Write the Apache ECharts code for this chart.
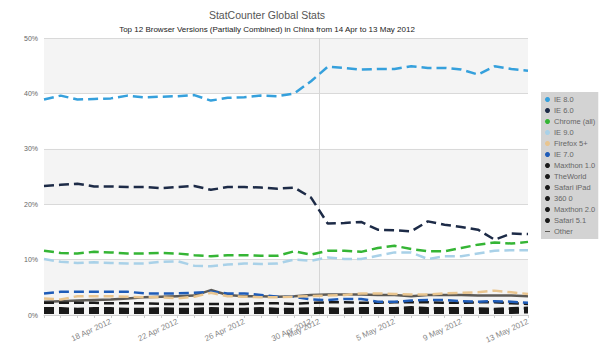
<!DOCTYPE html>
<html>
<head>
<meta charset="utf-8">
<script src="https://cdn.jsdelivr.net/npm/echarts@6/dist/echarts.min.js"></script>
<style>
    html, body { margin: 0; padding: 0; background: #fff; }
    #chart { width: 600px; height: 351px; }
</style>
</head>
<body>
<div id="chart"></div>
<script>
const days = [
    '14 Apr 2012', '15 Apr 2012', '16 Apr 2012', '17 Apr 2012', '18 Apr 2012', '19 Apr 2012',
    '20 Apr 2012', '21 Apr 2012', '22 Apr 2012', '23 Apr 2012', '24 Apr 2012', '25 Apr 2012',
    '26 Apr 2012', '27 Apr 2012', '28 Apr 2012', '29 Apr 2012', '30 Apr 2012', '1 May 2012',
    '2 May 2012', '3 May 2012', '4 May 2012', '5 May 2012', '6 May 2012', '7 May 2012',
    '8 May 2012', '9 May 2012', '10 May 2012', '11 May 2012', '12 May 2012', '13 May 2012'
];
const labelDays = [4, 8, 12, 16, 21, 25, 29];
const monthMark = 16.5;
const monthLabel = 'May 2012';
const yTicks = [0, 10, 20, 30, 40, 50];

const ie8 = [38.9, 39.6, 38.9, 39.0, 39.1, 39.6, 39.3, 39.4, 39.5, 39.7, 38.7, 39.2, 39.3, 39.6, 39.5,
    40.0, 42.2, 44.8, 44.6, 44.3, 44.4, 44.4, 44.9, 44.6, 44.6, 44.3, 43.4, 44.9, 44.4, 44.1];
const ie6 = [23.3, 23.5, 23.7, 23.2, 23.2, 23.1, 23.1, 22.9, 23.1, 23.3, 22.6, 23.1, 23.1, 23.0, 22.8,
    23.0, 21.2, 16.5, 16.6, 16.8, 15.4, 15.3, 15.1, 16.9, 16.3, 15.9, 15.4, 13.6, 14.7, 14.6];
const chrome = [11.6, 11.2, 11.1, 11.4, 11.3, 11.1, 11.1, 11.2, 11.1, 10.8, 10.6, 10.8, 10.8, 10.7, 10.7,
    11.5, 10.9, 11.6, 11.6, 11.4, 12.1, 12.5, 11.9, 11.5, 11.5, 12.1, 12.7, 13.1, 12.9, 13.2];
const ie9 = [10.1, 9.6, 9.4, 9.5, 9.4, 9.3, 9.3, 9.6, 9.7, 8.9, 8.8, 9.1, 9.3, 9.2, 9.3,
    10.0, 9.8, 10.4, 10.1, 10.1, 10.7, 11.3, 11.3, 10.1, 10.6, 10.6, 11.1, 11.6, 11.7, 11.7];
const firefox = [3.0, 2.8, 3.4, 3.4, 3.4, 3.3, 3.2, 3.2, 3.0, 3.3, 4.0, 3.4, 3.3, 3.2, 3.2,
    3.3, 3.4, 3.5, 3.6, 3.9, 3.9, 3.8, 3.7, 3.7, 3.9, 4.0, 4.1, 4.4, 4.1, 3.8];
const ie7 = [3.9, 4.2, 4.2, 4.2, 4.2, 4.2, 3.9, 3.9, 3.9, 4.0, 4.2, 3.9, 3.9, 3.6, 3.3,
    3.3, 2.8, 2.7, 2.9, 2.9, 2.4, 2.4, 2.6, 2.7, 2.7, 2.5, 2.4, 2.5, 2.4, 2.2];
const maxthon1 = [2.2, 2.2, 2.2, 2.2, 2.1, 2.1, 2.1, 2.0, 2.0, 2.0, 2.0, 2.0, 2.0, 2.1, 2.1,
    2.0, 2.2, 2.3, 2.3, 2.2, 2.2, 2.3, 2.3, 2.3, 2.2, 2.2, 2.3, 2.3, 2.1, 2.0];
const theWorld = [1.2, 1.2, 1.1, 1.2, 1.2, 1.1, 1.1, 1.2, 1.1, 1.1, 1.2, 1.1, 1.1, 1.2, 1.1,
    1.1, 1.2, 1.2, 1.1, 1.2, 1.2, 1.2, 1.4, 1.2, 1.2, 1.2, 1.2, 1.1, 1.2, 1.3];
const safariIpad = [1.0, 1.0, 1.0, 1.0, 0.9, 0.9, 0.9, 1.0, 0.9, 0.9, 1.0, 0.9, 0.9, 1.0, 1.0,
    0.9, 1.0, 1.0, 1.0, 1.0, 1.0, 1.0, 1.1, 1.0, 1.0, 1.0, 1.0, 1.0, 1.1, 1.1];
const s360 = [0.8, 0.8, 0.8, 0.8, 0.8, 0.8, 0.8, 0.8, 0.8, 0.8, 0.8, 0.8, 0.8, 0.8, 0.8,
    0.8, 0.8, 0.8, 0.8, 0.8, 0.8, 0.8, 0.9, 0.8, 0.8, 0.8, 0.8, 0.8, 0.9, 0.9];
const maxthon2 = [0.6, 0.6, 0.6, 0.6, 0.6, 0.6, 0.6, 0.6, 0.6, 0.6, 0.6, 0.6, 0.6, 0.6, 0.6,
    0.6, 0.6, 0.6, 0.6, 0.6, 0.6, 0.6, 0.6, 0.6, 0.6, 0.6, 0.6, 0.6, 0.6, 0.6];
const safari51 = [0.4, 0.4, 0.4, 0.4, 0.4, 0.4, 0.4, 0.4, 0.4, 0.4, 0.4, 0.4, 0.4, 0.4, 0.4,
    0.4, 0.4, 0.4, 0.4, 0.4, 0.4, 0.4, 0.4, 0.4, 0.4, 0.4, 0.4, 0.4, 0.4, 0.5];
const other = [2.4, 2.5, 2.6, 2.7, 2.8, 3.0, 3.2, 3.3, 3.4, 3.5, 4.5, 3.6, 3.4, 3.4, 3.3,
    3.4, 3.6, 3.7, 3.7, 3.7, 3.6, 3.6, 3.4, 3.6, 3.6, 3.6, 3.5, 3.5, 3.5, 3.4];

const seriesNames = ['IE 8.0', 'IE 6.0', 'Chrome (all)', 'IE 9.0', 'Firefox 5+', 'IE 7.0', 'Maxthon 1.0',
    'TheWorld', 'Safari iPad', '360 0', 'Maxthon 2.0', 'Safari 5.1', 'Other'];
const seriesValues = [ie8, ie6, chrome, ie9, firefox, ie7, maxthon1, theWorld, safariIpad, s360,
    maxthon2, safari51, other];
const seriesColors = ['#35a0dc', '#1d2b47', '#35b535', '#a9d1e8', '#e9c58f', '#1f5cb8', '#1a1a1a',
    '#1a1a1a', '#1a1a1a', '#1a1a1a', '#1a1a1a', '#1a1a1a', '#5d5a55'];

const font = "'Liberation Sans', Arial, sans-serif";

let series = seriesNames.map((name, i) => {
    let s = {
        name: name,
        type: 'line',
        showSymbol: false,
        symbol: 'circle',
        color: seriesColors[i],
        z: 20 - i,
        data: seriesValues[i].map((v, d) => [d, v]),
        lineStyle: {
            width: 2.5,
            type: name === 'Other' ? 'solid' : [10, 5]
        }
    };
    if (i === 0) {
        s.markLine = {
            silent: true,
            symbol: 'none',
            label: {show: false},
            lineStyle: {color: '#d6d6d6', type: 'solid', width: 1},
            data: [{xAxis: monthMark}]
        };
    }
    return s;
});

let option = {
    animation: false,
    backgroundColor: '#fff',
    title: [
        {
            text: 'StatCounter Global Stats',
            left: 262,
            top: 4,
            textAlign: 'center',
            textStyle: {fontFamily: font, fontSize: 10.5, fontWeight: 'normal', color: '#555'}
        },
        {
            text: 'Top 12 Browser Versions (Partially Combined) in China from 14 Apr to 13 May 2012',
            left: 262,
            top: 20,
            textAlign: 'center',
            textStyle: {fontFamily: font, fontSize: 8, fontWeight: 'normal', color: '#222'}
        }
    ],
    legend: {
        orient: 'vertical',
        left: 541,
        top: 92,
        backgroundColor: '#d3d3d3',
        padding: [3, 3, 3, 4],
        itemGap: 2,
        itemWidth: 5,
        itemHeight: 5,
        icon: 'circle',
        textStyle: {fontFamily: font, fontSize: 7.5, color: '#666', lineHeight: 9, padding: [0, 0, 0, -1]},
        data: seriesNames.map(n => n === 'Other' ? {name: n, icon: 'path://M0,4 L10,4 L10,6 L0,6 Z'} : n)
    },
    grid: {left: 44, right: 72, top: 38, bottom: 36},
    xAxis: {
        type: 'value',
        min: 0,
        max: days.length - 1,
        interval: 1,
        splitLine: {show: false},
        axisLine: {lineStyle: {color: '#cfcfcf'}},
        axisTick: {show: true, length: 3, lineStyle: {color: '#cfcfcf'}},
        axisLabel: {
            customValues: labelDays.concat([monthMark]),
            rotate: 25,
            margin: 6,
            fontFamily: font,
            fontSize: 8,
            color: '#888',
            formatter: v => v === monthMark ? monthLabel : days[v]
        }
    },
    yAxis: {
        type: 'value',
        min: yTicks[0],
        max: yTicks[yTicks.length - 1],
        interval: 10,
        axisLine: {show: false},
        axisTick: {show: false},
        axisLabel: {fontFamily: font, fontSize: 7, color: '#666', margin: 6, formatter: '{value}%'},
        splitLine: {lineStyle: {color: '#d9d9d9'}},
        splitArea: {show: true, areaStyle: {color: ['#f4f4f4', '#ffffff']}}
    },
    series: series
};

let myChart = echarts.init(document.getElementById('chart'), null, {renderer: 'svg'});
myChart.setOption(option);
</script>
</body>
</html>
